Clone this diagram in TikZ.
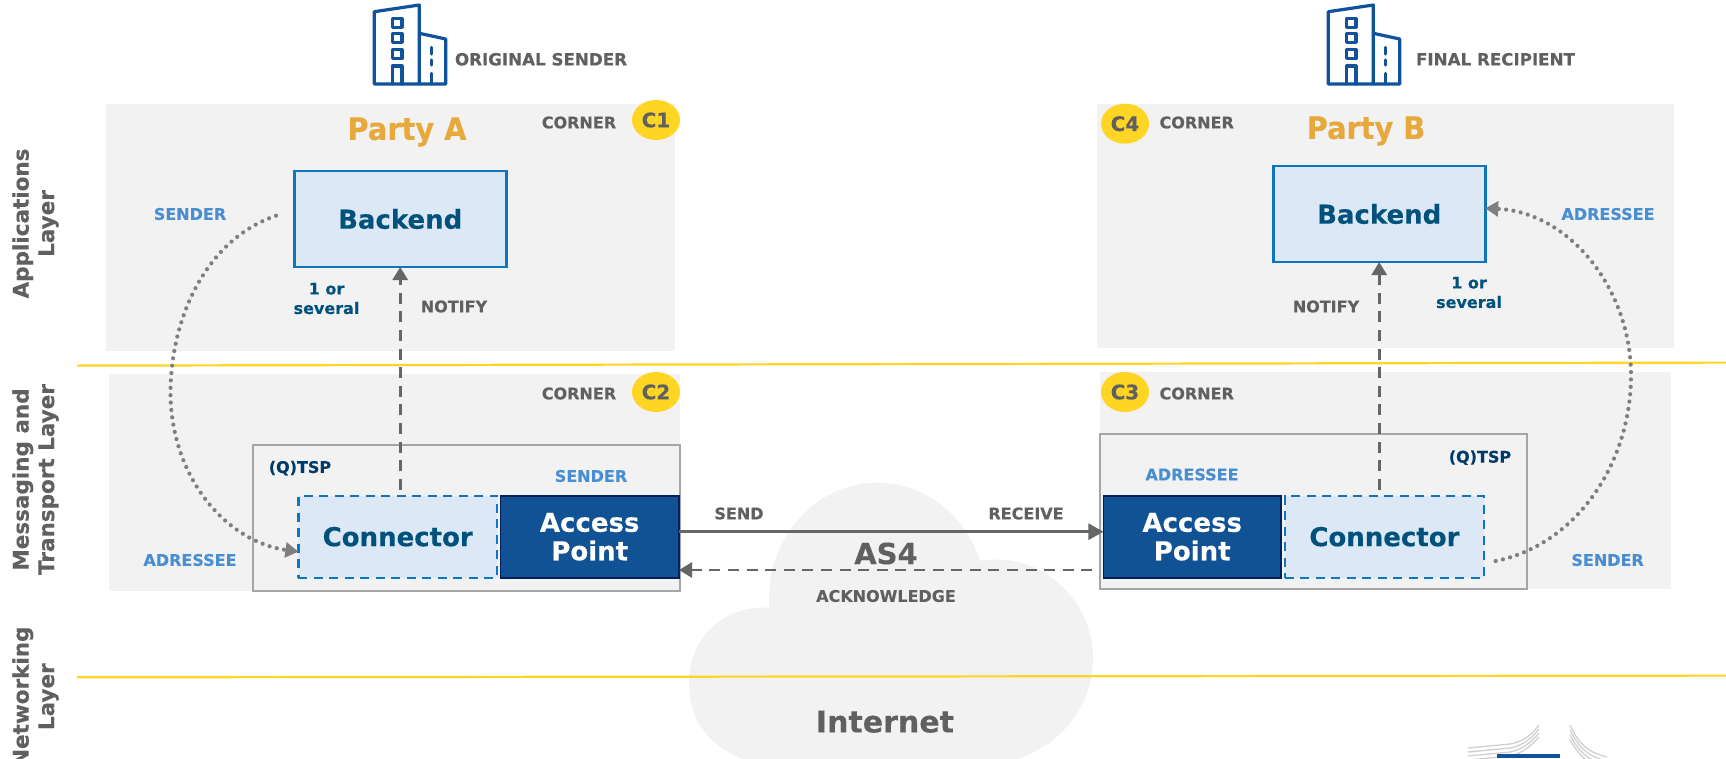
\documentclass[tikz,border=0pt]{standalone}
\usepackage{fontspec}
\setmainfont{DejaVu Sans}[BoldFeatures={FakeBold=0.25}]
\newfontfamily\partyfam{DejaVu Sans}[BoldFeatures={FakeStretch=0.93,FakeBold=0.25}]
\usetikzlibrary{arrows.meta,shapes.geometric}
\definecolor{panel}{HTML}{F2F2F2}
\definecolor{greytxt}{HTML}{606060}
\definecolor{arrowgrey}{HTML}{666666}
\definecolor{dotgrey}{HTML}{7F7F7F}
\definecolor{roleblue}{HTML}{4A8ED2}
\definecolor{darkteal}{HTML}{00527C}
\definecolor{navytxt}{HTML}{003A6B}
\definecolor{boxfill}{HTML}{DCE8F5}
\definecolor{boxline}{HTML}{0F75BC}
\definecolor{apfill}{HTML}{105293}
\definecolor{apline}{HTML}{002060}
\definecolor{yellowline}{HTML}{FFD524}
\definecolor{partyorange}{HTML}{E8A93C}
\definecolor{tspline}{HTML}{A6A6A6}
\definecolor{iconblue}{HTML}{10529B}
\definecolor{logogrey}{HTML}{D0D0D0}
\newcommand{\fs}[2]{\fontsize{#1}{#2}\selectfont\bfseries}
\tikzset{
  every node/.style={inner sep=0pt,outer sep=0pt,align=center},
  panelbox/.style={fill=panel,anchor=north west},
  tspbox/.style={fill=panel,draw=tspline,line width=1.8pt},
  backendbox/.style={fill=boxfill,draw=boxline,line width=2.6pt,text=darkteal,font=\fs{26}{30}},
  connbox/.style={fill=boxfill,draw=boxline,line width=2.4pt,dash pattern=on 9pt off 6.5pt,text=darkteal,font=\fs{26}{31}},
  apbox/.style={fill=apfill,draw=apline,line width=1.6pt,text=white,font=\fs{26}{28.5}},
  cornerlbl/.style={text=greytxt,font=\fs{16}{19}},
  headlbl/.style={text=greytxt,font=\fs{16.7}{19}},
  rolelbl/.style={text=roleblue,font=\fs{16}{19}},
  tsplbl/.style={text=navytxt,font=\fs{16}{19}},
  countlbl/.style={text=darkteal,font=\fs{16}{19.5}},
  partylbl/.style={text=partyorange,font=\partyfam\fs{31}{36}},
  badge/.style={ellipse,fill=yellowline,text=greytxt,font=\fs{20}{24},minimum width=48pt,minimum height=40pt},
  layerlbl/.style={rotate=90,text=greytxt,font=\fs{21.5}{25.5}},
  bigtxt/.style={text=greytxt,font=\fs{29}{34}},
  nettxt/.style={text=greytxt,font=\fs{30}{34}},
  yline/.style={draw=yellowline,line width=2.2pt},
  solidarrow/.style={draw=arrowgrey,line width=2.8pt,-{Triangle[length=15pt,width=16pt]}},
  dasharrow/.style={draw=arrowgrey,line width=2.8pt,dash pattern=on 11pt off 7.6pt,-{Triangle[length=13pt,width=15pt]}},
  dotarrow/.style={draw=dotgrey,line width=4.2pt,line cap=round,dash pattern=on 0pt off 7.4pt,-{Triangle[length=13pt,width=15pt]}},
  icon/.style={draw=iconblue,line width=3.2pt,line join=round,line cap=round},
  logoline/.style={draw=logogrey,line width=1.3pt}
}
\begin{document}
\begin{tikzpicture}[x=1pt,y=-1pt]
\path[use as bounding box,clip] (0,0) rectangle (1726,758);
\fill[white] (0,0) rectangle (1726,758);

% panels
\node[panelbox,minimum width=569pt,minimum height=247pt] (panelA) at (106,103.5) {};
\node[panelbox,minimum width=577pt,minimum height=243.5pt] (panelB) at (1097,104) {};
\node[panelbox,minimum width=571pt,minimum height=216.5pt] (panelC) at (109,374) {};
\node[panelbox,minimum width=571pt,minimum height=217pt] (panelD) at (1100,372) {};
\node[tspbox,minimum width=427pt,minimum height=146pt] (tspA) at (466.5,517.7) {};
\node[tspbox,minimum width=427pt,minimum height=154.7pt] (tspB) at (1313.5,511.4) {};

% cloud
\fill[panel] (769.5,607.5) .. controls (764,540) and (815,482.7) .. (877,482.7)
  .. controls (925,482.7) and (965,515) .. (980,561)
  .. controls (1040,550) and (1093,600) .. (1093,658)
  .. controls (1093,715) and (1050,752) .. (1007,762)
  -- (753,762) .. controls (715,752) and (689,725) .. (689,683)
  .. controls (689,640) and (720,606) .. (769.5,607.5) -- cycle;

% yellow lines
\coordinate (y1a) at (77,365.6);
\coordinate (y1b) at (1726,362.6);
\coordinate (y2a) at (77,677.3);
\coordinate (y2b) at (1726,675.6);
\draw[yline] (y1a) -- (y1b);
\draw[yline] (y2a) -- (y2b);

% boxes
\node[backendbox,minimum width=212pt,minimum height=96pt] (backendA) at (400.2,219) {Backend};
\node[backendbox,minimum width=212pt,minimum height=96pt] (backendB) at (1379.2,214) {Backend};
\node[connbox,minimum width=198.6pt,minimum height=82pt] (connA) at (397.7,536.7) {Connector};
\node[connbox,minimum width=199.3pt,minimum height=82pt] (connB) at (1384.4,536.7) {Connector};
\node[apbox,minimum width=178.6pt,minimum height=82pt] (apA) at (589.7,536.7) {Access\\Point};
\node[apbox,minimum width=177.6pt,minimum height=82pt] (apB) at (1192.2,536.7) {Access\\Point};

% corners
\node[badge] (c1) at (656,120) {C1};
\node[badge] (c2) at (656,392) {C2};
\node[badge] (c3) at (1125,392) {C3};
\node[badge] (c4) at (1125,123.7) {C4};
\node[cornerlbl] (cornerA) at (579,122.5) {CORNER};
\node[cornerlbl] (cornerC) at (579,393.5) {CORNER};
\node[cornerlbl] (cornerD) at (1196.7,393.5) {CORNER};
\node[cornerlbl] (cornerB) at (1196.7,122.5) {CORNER};

% party names
\node[partylbl] (partyA) at (407,132) {Party A};
\node[partylbl] (partyB) at (1366,131) {Party B};

% labels
\node[rolelbl] (sendA) at (190,214) {SENDER};
\node[rolelbl] (addrC) at (190,560) {ADRESSEE};
\node[rolelbl] (sendC) at (591,476) {SENDER};
\node[rolelbl] (addrB) at (1608,214) {ADRESSEE};
\node[rolelbl] (addrD) at (1192,474.5) {ADRESSEE};
\node[rolelbl] (sendD) at (1607.6,560) {SENDER};
\node[countlbl] (countA) at (326.5,298.5) {1 or\\several};
\node[countlbl] (countB) at (1469,292.5) {1 or\\several};
\node[cornerlbl] (notifyA) at (454,306.5) {NOTIFY};
\node[cornerlbl] (notifyB) at (1326,306.5) {NOTIFY};
\node[tsplbl] (tspA2) at (300,468) {(Q)TSP};
\node[tsplbl] (tspB2) at (1480,457.7) {(Q)TSP};
\node[cornerlbl] (sendlbl) at (739,513.5) {SEND};
\node[cornerlbl] (recvlbl) at (1026,513.5) {RECEIVE};
\node[cornerlbl] (acklbl) at (886,596) {ACKNOWLEDGE};
\node[bigtxt] (as4) at (886,553.5) {AS4};
\node[nettxt] (internet) at (885,721.7) {Internet};
\node[headlbl] (origlbl) at (541,59.3) {ORIGINAL SENDER};
\node[headlbl] (finallbl) at (1495.5,59.3) {FINAL RECIPIENT};

% layers
\node[layerlbl] (layer1) at (35.5,223.5) {Applications\\Layer};
\node[layerlbl] (layer2) at (35.5,479.5) {Messaging and\\Transport Layer};
\node[layerlbl] (layer3) at (35.5,696.7) {Networking\\Layer};

% connectors
\coordinate (sendrow) at (0,531.7);
\coordinate (ackrow) at (0,570);
\draw[solidarrow] (apA.east |- sendrow) -- (apB.west |- sendrow);
\draw[dasharrow,shorten <=11pt] (apB.west |- ackrow) -- (apA.east |- ackrow);
\draw[dasharrow,shorten <=6pt] (connA.north -| backendA.south) -- (backendA.south);
\draw[dasharrow,shorten <=6pt] (connB.north -| backendB.south) -- (backendB.south);
\coordinate (dotA) at (276,215.7);
\coordinate (dotB) at (1495.7,561);
\coordinate (dotAend) at (0,551.7);
\coordinate (dotBend) at (0,208.3);
\draw[dotarrow] (dotA) .. controls (205,240) and (170,320) .. (170.5,395)
  .. controls (172,480) and (228,542) .. (connA.west |- dotAend);
\draw[dotarrow] (dotB) .. controls (1575,545) and (1631,465) .. (1631,375)
  .. controls (1631,290) and (1570,212) .. (backendB.east |- dotBend);

% building icons
\foreach \dx in {0,954}{
\begin{scope}[xshift=\dx pt]
\draw[icon] (374.3,84) -- (374.3,11.7) -- (419.3,5) -- (419.3,84) -- cycle;
\draw[icon] (419.3,33.3) -- (445.7,39) -- (445.7,84) -- (419.3,84);
\draw[icon] (392.5,18.8) rectangle (402,27.3);
\draw[icon] (392.5,33.8) rectangle (402,42.3);
\draw[icon] (392.5,49.8) rectangle (402,58.8);
\draw[icon] (392.5,84) -- (392.5,66) -- (402,66) -- (402,84);
\draw[icon] (431.7,47.5) -- (431.7,54);
\draw[icon] (431.7,60) -- (431.7,65);
\draw[icon] (431.7,73.5) -- (431.7,84);
\end{scope}
}

% logo
\foreach \d in {0,4,8,12}{
  \draw[logoline] (1468,748+\d) -- (1510,744+\d) .. controls (1522,742+\d) and (1532,735+\d*.8) .. (1539,725+\d);
  \draw[logoline] (1570,725+\d*1.2) .. controls (1578,742+\d) and (1586,752+\d) .. (1607,757+\d);
}
\fill[iconblue] (1497,754) rectangle (1560,758);
\end{tikzpicture}
\end{document}
